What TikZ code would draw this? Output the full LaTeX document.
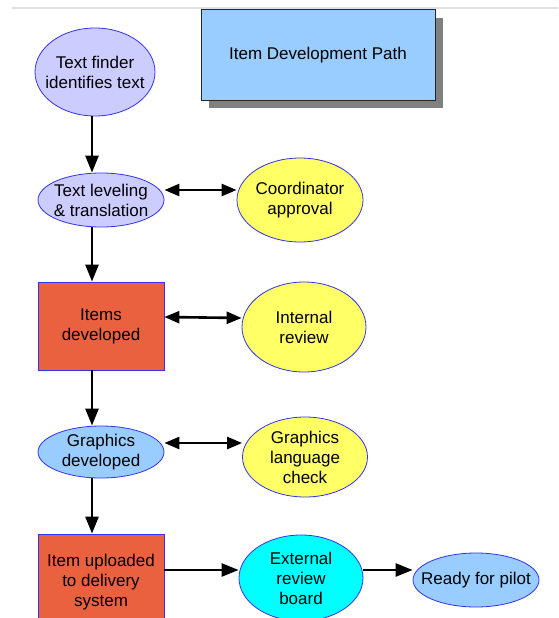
\documentclass[tikz,border=0pt]{standalone}
\usepackage{fontspec}
\setmainfont{Liberation Sans}
\usetikzlibrary{shapes.geometric,arrows.meta}
\definecolor{lav}{HTML}{CCCCFF}
\definecolor{lblue}{HTML}{99CCFF}
\definecolor{yel}{HTML}{FFFF66}
\definecolor{orng}{HTML}{EA6140}
\definecolor{cyn}{HTML}{00FFFF}
\definecolor{edge}{HTML}{3333EE}
\begin{document}
\begin{tikzpicture}[x=1pt,y=-1pt,
  every node/.style={font=\fontsize{17}{20}\selectfont, align=center, inner sep=0pt},
  oval/.style={ellipse, draw=edge, line width=0.8pt, inner xsep=-10pt, inner ysep=-4pt},
  boxnode/.style={rectangle, draw=edge, line width=0.8pt, fill=orng},
  conn/.style={line width=2.6pt, -{Triangle[length=17pt,width=13pt]}},
  dconn/.style={line width=2.6pt, {Triangle[length=15pt,width=12pt]}-{Triangle[length=15pt,width=12pt]}}]
\useasboundingbox (0,0) rectangle (558,618);
\fill[white] (0,0) rectangle (558,618);
\draw[line width=2pt, black!12] (12,8) -- (558,8);
% title
\fill[black!50] (209,18) rectangle (443,108);
\node[rectangle, draw=black!85, line width=1pt, fill=lblue, minimum width=234pt, minimum height=90pt] (title) at (318,55) {Item Development Path};
% left column
\node[oval, fill=lav, minimum width=120pt, minimum height=88pt] (tf) at (95,72) {Text finder\\identifies text};
\node[oval, fill=lav, minimum width=126pt, minimum height=54pt] (tl) at (101,200) {Text leveling\\\& translation};
\node[boxnode, minimum width=126pt, minimum height=88pt] (id) at (101,326) {Items\\developed};
\node[oval, fill=lblue, minimum width=126pt, minimum height=52pt] (gd) at (101,452) {Graphics\\developed};
\node[boxnode, minimum width=126pt, minimum height=96pt] (iu) at (101,582) {Item uploaded\\to delivery\\system};
% right column
\node[oval, fill=yel, minimum width=126pt, minimum height=84pt] (ca) at (300,200) {Coordinator\\approval};
\node[oval, fill=yel, minimum width=124pt, minimum height=90pt] (ir) at (304,327) {Internal\\review};
\node[oval, fill=yel, minimum width=125pt, minimum height=80pt] (gl) at (305,457) {Graphics\\language\\check};
\node[oval, fill=cyn, minimum width=124pt, minimum height=86pt] (er) at (301,578) {External\\review\\board};
\node[oval, fill=lblue, minimum width=126pt, minimum height=54pt, inner xsep=-16pt] (rp) at (476,580) {Ready for pilot};
% vertical connectors
\draw[conn] (tf.south -| 92,0) -- (tl.north -| 92,0);
\draw[conn] (tl.south -| 92,0) -- (id.north -| 92,0);
\draw[conn] (id.south -| 92,0) -- (gd.north -| 92,0);
\draw[conn] (gd.south -| 92,0) -- (iu.north -| 92,0);
% horizontal connectors
\draw[dconn] ([yshift=10pt]tl.east) -- ([yshift=10pt]ca.west);
\draw[dconn] ([yshift=9pt]id.east) -- ([yshift=9pt]ir.west);
\draw[dconn] ([yshift=9pt]gd.east) -- ([yshift=14pt]gl.west);
\draw[conn] ([yshift=12pt]iu.east) -- ([yshift=8pt]er.west);
\draw[conn] ([yshift=8pt]er.east) -- ([yshift=10pt]rp.west);
\end{tikzpicture}
\end{document}
